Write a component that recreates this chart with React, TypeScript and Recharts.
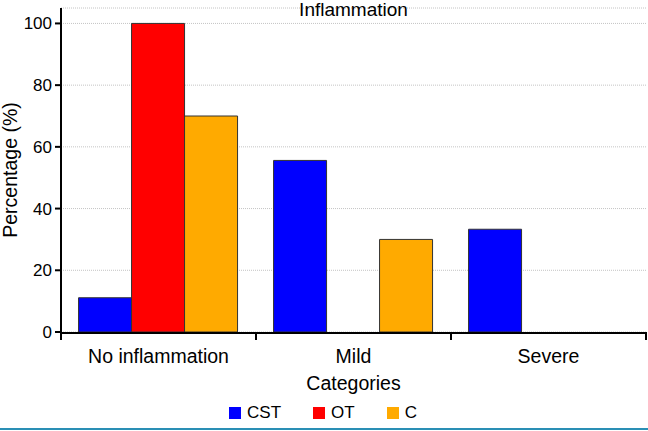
import React from 'react';
import { BarChart, Bar, XAxis, YAxis, CartesianGrid, Legend } from 'recharts';

const categories = ['No inflammation', 'Mild', 'Severe'];
const cstValues = [11.1, 55.6, 33.3];
const otValues = [100, 0, 0];
const cValues = [70, 30, 0];
const yTicks = [0, 20, 40, 60, 80, 100];
const edgeTicks = [0, 1, 2, 3];

const series = [
  { key: 'CST', color: '#0000ff' },
  { key: 'OT', color: '#ff0000' },
  { key: 'C', color: '#ffaa00' },
];

const data = categories.map((name, i) => ({
  name,
  idx: i + 0.5,
  CST: cstValues[i],
  OT: otValues[i],
  C: cValues[i],
}));

const font = '"Liberation Sans", Arial, sans-serif';

const LegendContent = () => (
  <div style={{ display: 'flex', justifyContent: 'center', alignItems: 'center', height: 36, fontFamily: font, fontSize: 17, color: '#000' }}>
    {series.map((s) => (
      <div key={s.key} style={{ display: 'flex', alignItems: 'center', marginRight: s.key === 'C' ? 0 : 32 }}>
        <span style={{ width: 12, height: 12, background: s.color, marginRight: 6, display: 'inline-block' }} />
        <span>{s.key}</span>
      </div>
    ))}
  </div>
);

export default function App() {
  return (
    <div style={{ position: 'absolute', left: 0, top: 0, width: 648, height: 431, background: '#fff' }}>
      <div style={{ position: 'absolute', left: 61, width: 585, top: 0, textAlign: 'center', fontFamily: font, fontSize: 19, lineHeight: '19px', color: '#000', zIndex: 1 }}>
        Inflammation
      </div>
      <BarChart
        width={648}
        height={431}
        data={data}
        margin={{ top: 8, right: 2, left: 0, bottom: 0 }}
        barCategoryGap="9%"
        barGap={0}
      >
        <CartesianGrid xAxisId="main" vertical={false} stroke="#c4c4c4" strokeDasharray="1 1" />
        <XAxis
          xAxisId="edge"
          dataKey="idx"
          type="number"
          domain={[0, 3]}
          allowDataOverflow
          ticks={edgeTicks}
          interval={0}
          height={1}
          axisLine={false}
          tickFormatter={() => ''}
          tickLine={{ stroke: '#000', strokeWidth: 2 }}
          tickSize={8}
        />
        <XAxis
          xAxisId="main"
          dataKey="name"
          height={62}
          axisLine={{ stroke: '#000', strokeWidth: 2 }}
          tickLine={false}
          tickMargin={10}
          tick={{ fill: '#000', fontSize: 19.5, fontFamily: font }}
          label={{ value: 'Categories', position: 'insideBottom', offset: 5, fill: '#000', fontSize: 19.5, fontFamily: font }}
        />
        <YAxis
          width={61}
          domain={[0, 105]}
          ticks={yTicks}
          interval={0}
          axisLine={{ stroke: '#000', strokeWidth: 2 }}
          tickLine={{ stroke: '#000', strokeWidth: 2 }}
          tickSize={6}
          tickMargin={3}
          tick={{ fill: '#000', fontSize: 17, fontFamily: font }}
          label={{ value: 'Percentage (%)', angle: -90, position: 'center', dx: -20, fill: '#000', fontSize: 19.5, fontFamily: font }}
        />
        <Legend verticalAlign="bottom" height={36} content={<LegendContent />} />
        {series.map((s) => (
          <Bar key={s.key} xAxisId="main" dataKey={s.key} fill={s.color} stroke="#333" strokeWidth={1} isAnimationActive={false} />
        ))}
      </BarChart>
      <div style={{ position: 'absolute', left: 0, top: 428, width: 648, height: 2, background: '#2a8fb5' }} />
    </div>
  );
}
